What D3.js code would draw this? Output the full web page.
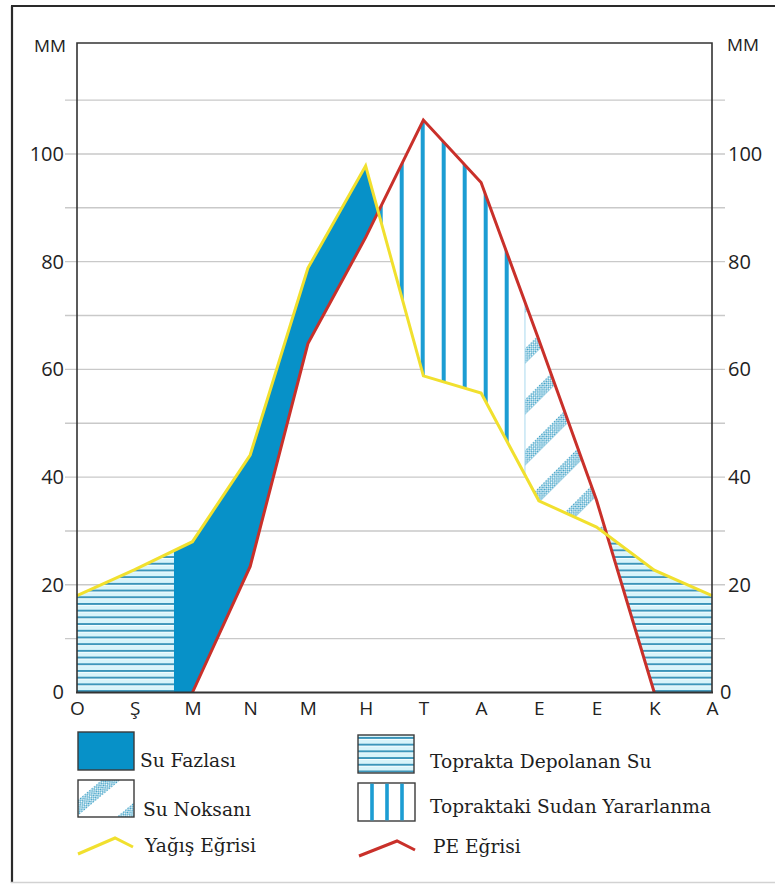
<!DOCTYPE html>
<html><head><meta charset="utf-8">
<script src="https://cdn.jsdelivr.net/npm/d3@7"></script>
<style>body{margin:0;background:#fff} svg{display:block}</style>
</head><body>
<script>
// ---------------- DATA ----------------
const months = ["O","Ş","M","N","M","H","T","A","E","E","K","A"];
const precipitation = [18, 22.8, 28, 44.1, 78.8, 97.8, 58.8, 55.6, 35.6, 30.7, 22.7, 18];
const potentialET  = [null, null, 0, 23.4, 64.8, 84.5, 106.3, 94.7, 65.5, 35.7, 0, null];
const surplusStart = 1.68;  // month index: soil storage full, surplus begins
const deficitStart = 7.76;  // month index: soil water used up, deficit begins
const yTickValues = [0, 20, 40, 60, 80, 100];
const gridValues = [10, 20, 30, 40, 50, 60, 70, 80, 90, 100, 110];
const axisUnit = "MM";
const legendLeft = ["Su Fazlası", "Su Noksanı", "Yağış Eğrisi"];
const legendRight = ["Toprakta Depolanan Su", "Topraktaki Sudan Yararlanma", "PE Eğrisi"];

// ---------------- SETUP ----------------
const W = 775, H = 884;
const svg = d3.select("body").append("svg").attr("width", W).attr("height", H);
const x = d3.scaleLinear().domain([0, 11]).range([77, 712]);
const y = d3.scaleLinear().domain([0, 120.6]).range([692.5, 43]);

const C = {
  surplus: "#0791c8", stripe: "#1c9dd3", hline: "#3a94b9", hbg: "#d8f4fa",
  dots: "#3a9fc6", yellow: "#f1e02e", red: "#c9302a", grid: "#c9c9c9", axis: "#333"
};

// frame
svg.append("line").attr("x1", 12).attr("x2", 12).attr("y1", 6).attr("y2", 883).attr("stroke", "#2a2a2a").attr("stroke-width", 2.2);
svg.append("line").attr("x1", 11).attr("x2", W).attr("y1", 6).attr("y2", 6).attr("stroke", "#2a2a2a").attr("stroke-width", 2.2);
svg.append("line").attr("x1", 11).attr("x2", W).attr("y1", 882.5).attr("y2", 882.5).attr("stroke", "#d2d2d2").attr("stroke-width", 1.5);

// ---------------- PATTERNS ----------------
const defs = svg.append("defs");
const ph = defs.append("pattern").attr("id", "hlines").attr("patternUnits", "userSpaceOnUse")
  .attr("width", 10).attr("height", 6.7);
ph.append("rect").attr("width", 10).attr("height", 6.7).attr("fill", C.hbg);
ph.append("rect").attr("y", 0).attr("width", 10).attr("height", 1.9).attr("fill", C.hline);
ph.append("rect").attr("y", 1.9).attr("width", 10).attr("height", 1.0).attr("fill", "#f4fdff");

const pv = defs.append("pattern").attr("id", "vlines").attr("patternUnits", "userSpaceOnUse")
  .attr("width", 21).attr("height", 10).attr("x", 0.7);
pv.append("rect").attr("width", 21).attr("height", 10).attr("fill", "#fff");
pv.append("rect").attr("x", 0).attr("width", 4).attr("height", 10).attr("fill", C.stripe);

const pd = defs.append("pattern").attr("id", "dots").attr("patternUnits", "userSpaceOnUse")
  .attr("width", 3).attr("height", 3);
pd.append("rect").attr("width", 1.5).attr("height", 1.5).attr("fill", C.dots);
pd.append("rect").attr("x", 1.5).attr("y", 1.5).attr("width", 1.5).attr("height", 1.5).attr("fill", C.dots);

const pdef = defs.append("pattern").attr("id", "deficit").attr("patternUnits", "userSpaceOnUse")
  .attr("width", 60).attr("height", 36).attr("patternTransform", "translate(0,8) rotate(-45)");
pdef.append("rect").attr("width", 60).attr("height", 36).attr("fill", "#fff");
pdef.append("rect").attr("width", 60).attr("height", 11).attr("fill", "url(#dots)");

const pdefL = defs.append("pattern").attr("id", "deficitL").attr("patternUnits", "userSpaceOnUse")
  .attr("width", 60).attr("height", 38).attr("patternTransform", "translate(0,22) rotate(-40)");
pdefL.append("rect").attr("width", 60).attr("height", 38).attr("fill", "#fff");
pdefL.append("rect").attr("width", 60).attr("height", 12).attr("fill", "url(#dots)");

// ---------------- GRID ----------------
svg.append("g").selectAll("line").data(gridValues).join("line")
  .attr("x1", 65).attr("x2", 725).attr("y1", d => y(d)).attr("y2", d => y(d))
  .attr("stroke", C.grid).attr("stroke-width", 1.4);

// ---------------- REGIONS ----------------
function at(arr, t) {
  const i = Math.floor(t), f = t - i;
  if (f === 0) return arr[i];
  return arr[i] + (arr[i + 1] - arr[i]) * f;
}
function crossing(i) {
  const d0 = precipitation[i] - potentialET[i], d1 = precipitation[i + 1] - potentialET[i + 1];
  const t = i + d0 / (d0 - d1);
  return [t, at(precipitation, t)];
}
const c1 = crossing(5), c2 = crossing(9);
const P = i => [i, precipitation[i]];
const R = i => [i, potentialET[i]];
const path = d3.line().x(d => x(d[0])).y(d => y(d[1]));

const storageLeft = [P(0), P(1), [surplusStart, at(precipitation, surplusStart)], [surplusStart, 0], [0, 0]];
const surplus = [[surplusStart, 0], [surplusStart, at(precipitation, surplusStart)], P(2), P(3), P(4), P(5), c1, R(5), R(4), R(3), R(2)];
const utilization = [c1, R(6), R(7), [deficitStart, at(potentialET, deficitStart)], [deficitStart, at(precipitation, deficitStart)], P(7), P(6)];
const deficit = [[deficitStart, at(potentialET, deficitStart)], R(8), R(9), c2, P(9), P(8), [deficitStart, at(precipitation, deficitStart)]];
const storageRight = [c2, P(10), P(11), [11, 0], R(10)];

const rg = svg.append("g");
rg.append("path").attr("d", path(storageLeft) + "Z").attr("fill", "url(#hlines)");
rg.append("path").attr("d", path(storageRight) + "Z").attr("fill", "url(#hlines)");
rg.append("path").attr("d", path(surplus) + "Z").attr("fill", C.surplus);
rg.append("path").attr("d", path(utilization) + "Z").attr("fill", "url(#vlines)");
rg.append("path").attr("d", path(deficit) + "Z").attr("fill", "url(#deficit)");
rg.append("line").attr("x1", x(deficitStart)).attr("x2", x(deficitStart))
  .attr("y1", y(at(potentialET, deficitStart))).attr("y2", y(at(precipitation, deficitStart)))
  .attr("stroke", "#a9d9ee").attr("stroke-width", 1);

// ---------------- CURVES ----------------
const lineGen = d3.line().defined(d => d != null).x((d, i) => x(i)).y(d => y(d));
svg.append("path").attr("d", lineGen(potentialET)).attr("fill", "none")
  .attr("stroke", C.red).attr("stroke-width", 3).attr("stroke-linejoin", "miter");
svg.append("path").attr("d", lineGen(precipitation)).attr("fill", "none")
  .attr("stroke", C.yellow).attr("stroke-width", 3).attr("stroke-linejoin", "miter");

// ---------------- AXES ----------------
const frame = svg.append("g").attr("stroke", C.axis).attr("stroke-width", 1.6).attr("fill", "none");
frame.append("path").attr("d", `M${x(0)},${y(0)}V${y(120.6)}H${x(11)}V${y(0)}`);
frame.append("line").attr("x1", x(0) - 1).attr("x2", x(11) + 1).attr("y1", y(0)).attr("y2", y(0)).attr("stroke-width", 2);

const tickFont = g => {
  g.select(".domain").remove();
  g.selectAll("text").attr("font-family", "'Open Sans', sans-serif").attr("font-size", 20).attr("fill", "#222");
};
svg.append("g").attr("transform", `translate(${x(0)},0)`)
  .call(d3.axisLeft(y).tickValues(yTickValues).tickSize(0).tickPadding(13)).call(tickFont);
const ra = svg.append("g").attr("transform", `translate(${x(11)},0)`)
  .call(d3.axisRight(y).tickValues(yTickValues).tickSize(0).tickPadding(16)).call(tickFont);
ra.selectAll(".tick").filter(d => d === 0).select("text").attr("x", 8);
svg.append("g").attr("transform", `translate(0,${y(0)})`)
  .call(d3.axisBottom(x).tickValues(d3.range(months.length)).tickFormat(i => months[i]).tickSize(0).tickPadding(9))
  .call(tickFont).selectAll("text").attr("font-size", 19);

svg.append("text").attr("x", 50).attr("y", 52).attr("text-anchor", "middle")
  .attr("font-family", "'Open Sans', sans-serif").attr("font-size", 17).attr("fill", "#222")
  .attr("textLength", 32).attr("lengthAdjust", "spacingAndGlyphs").text(axisUnit);
svg.append("text").attr("x", 743).attr("y", 51).attr("text-anchor", "middle")
  .attr("font-family", "'Open Sans', sans-serif").attr("font-size", 17).attr("fill", "#222")
  .attr("textLength", 32).attr("lengthAdjust", "spacingAndGlyphs").text(axisUnit);

// ---------------- LEGEND ----------------
const lg = svg.append("g");
const serif = "'DejaVu Serif', serif";
const box = (bx, by, w, h, fill) => lg.append("rect").attr("x", bx).attr("y", by).attr("width", w).attr("height", h)
  .attr("fill", fill).attr("stroke", "#3a3a3a").attr("stroke-width", 1.4);
box(78, 732, 56, 38, C.surplus);
box(78, 780, 56, 37, "url(#deficitL)");
box(358, 735, 56, 38, "url(#hlines)");
box(358, 783, 57, 38, "#fff");
[372, 387, 402].forEach(sx => lg.append("rect").attr("x", sx - 1.8).attr("y", 783.7).attr("width", 3.6).attr("height", 36.6).attr("fill", C.stripe));
lg.append("polyline").attr("points", "78,854 115,838 133,847").attr("fill", "none").attr("stroke", C.yellow).attr("stroke-width", 3);
lg.append("polyline").attr("points", "359,856 397,841 415,850").attr("fill", "none").attr("stroke", C.red).attr("stroke-width", 3);

const lt = (tx, ty, s) => lg.append("text").attr("x", tx).attr("y", ty).attr("font-family", serif)
  .attr("font-size", 18.6).attr("fill", "#1e1e1e").text(s);
lt(140, 767, legendLeft[0]);
lt(143, 816, legendLeft[1]);
lt(145, 852, legendLeft[2]);
lt(430, 768, legendRight[0]);
lt(430, 813, legendRight[1]);
lt(433, 853, legendRight[2]);
</script>
</body></html>
